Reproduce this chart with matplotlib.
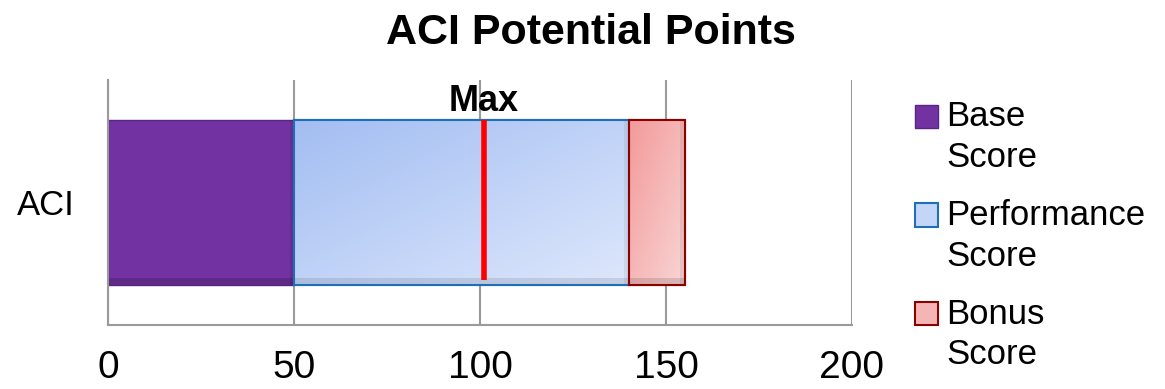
#!/usr/bin/env python3
'''
ACI potential points - stacked horizontal bar with max marker
'''
import numpy as np
import matplotlib.pyplot as plt
from matplotlib.patches import Patch, Rectangle
from matplotlib.legend_handler import HandlerPatch
from matplotlib.colors import LinearSegmentedColormap

categories = ['ACI']
series_names = ['Base\nScore', 'Performance\nScore', 'Bonus\nScore']
base_score = [50]
performance_score = [90]
bonus_score = [15]
max_points = 101
x_ticks = [0, 50, 100, 150, 200]

plt.rcParams['font.family'] = ['Liberation Sans', 'DejaVu Sans']

GRID = '#9a9a9a'
BAR_H = 0.67


def add_gradient(ax, bar, c1, c2):
    '''
    paint a diagonal gradient inside a bar (dark top-left, light bottom-right)
    '''
    x0, y0 = bar.get_x(), bar.get_y()
    w, h = bar.get_width(), bar.get_height()
    xx, yy = np.meshgrid(np.linspace(0, 1, 60), np.linspace(0, 1, 60))
    # row 0 is drawn at the top with origin='upper'
    grad = (xx + yy) / 2
    cmap = LinearSegmentedColormap.from_list('g', [c1, c2])
    im = ax.imshow(grad, cmap=cmap, extent=(x0, x0 + w, y0, y0 + h),
                   aspect='auto', origin='upper', zorder=2.1, interpolation='bilinear')
    im.set_clip_path(bar)


def add_bevel(ax, x0, w, alpha):
    '''
    thin darker strips on the bottom and right edge of a bar
    '''
    y0 = -BAR_H / 2
    ax.fill_between([x0, x0 + w], y0, y0 + BAR_H * 0.04, color='black',
                    alpha=alpha, zorder=2.2, lw=0)
    ax.fill_between([x0 + w - 1.2, x0 + w], y0, y0 + BAR_H, color='black',
                    alpha=alpha * 0.6, zorder=2.2, lw=0)


def top_square(legend, orig_handle, xdescent, ydescent, width, height, fontsize):
    '''
    legend square lined up with the first line of a two line label
    '''
    return Rectangle((-xdescent, -ydescent + 0.62 * fontsize), width, height)


fig = plt.figure(figsize=(11.65, 3.89), dpi=100)
ax = fig.add_axes([0.0927, 0.1645, 0.6386, 0.630])

base = ax.barh(categories, base_score, height=BAR_H, color='#7232a2',
               edgecolor='#5a2386', lw=1, zorder=2)
perf = ax.barh(categories, performance_score, left=base_score, height=BAR_H,
               color='#b4cbf5', edgecolor='#1f6fb8', lw=1.5, zorder=2)
left_bonus = [b + p for b, p in zip(base_score, performance_score)]
bonus = ax.barh(categories, bonus_score, left=left_bonus, height=BAR_H,
                color='#f5b5b5', edgecolor='#8b0000', lw=1.5, zorder=2)

add_gradient(ax, perf[0], '#a3bef2', '#dde7fc')
add_gradient(ax, bonus[0], '#f39a9a', '#f9d4d4')
add_bevel(ax, 0, base_score[0], 0.16)
add_bevel(ax, base_score[0], performance_score[0], 0.10)
add_bevel(ax, left_bonus[0], bonus_score[0], 0.12)

# outlines on top of the gradients
ax.barh(categories, performance_score, left=base_score, height=BAR_H,
        color='none', edgecolor='#1f6fb8', lw=1.5, zorder=3)
ax.barh(categories, bonus_score, left=left_bonus, height=BAR_H,
        color='none', edgecolor='#8b0000', lw=1.5, zorder=3)

# max marker
ax.vlines(max_points, -BAR_H / 2 + 0.02, BAR_H / 2, color='red', lw=4, zorder=4)
ax.text(max_points, 0.41, 'Max', ha='center', va='center', fontsize=26,
        fontweight='bold', zorder=5)

ax.set_xlim(0, 200)
ax.set_ylim(-0.5, 0.5)
ax.set_xticks(x_ticks)
ax.xaxis.grid(True, color=GRID, lw=1.5)
ax.set_axisbelow(True)
for side in ['top', 'right']:
    ax.spines[side].set_visible(False)
for side in ['left', 'bottom']:
    ax.spines[side].set_color(GRID)
    ax.spines[side].set_linewidth(1.5)
ax.tick_params(axis='x', length=0, pad=18, labelsize=28)
ax.tick_params(axis='y', length=0, pad=24, labelsize=25)

fig.text(0.507, 0.915, 'ACI Potential Points', ha='center', va='center',
         fontsize=31, fontweight='bold')

handles = [
    Patch(facecolor='#7232a2', edgecolor='#5a2386', lw=1),
    Patch(facecolor='#c4d6f7', edgecolor='#1f6fb8', lw=1.5),
    Patch(facecolor='#f5b5b5', edgecolor='#8b0000', lw=1.5),
]
leg = fig.legend(handles, series_names, loc='upper left',
                 bbox_to_anchor=(915 / 1165, (389 - 100) / 389), frameon=False,
                 fontsize=25, handlelength=0.65, handleheight=0.65, handletextpad=0.25,
                 labelspacing=0.72, borderpad=0, borderaxespad=0,
                 handler_map={Patch: HandlerPatch(patch_func=top_square)})
for txt in leg.get_texts():
    txt.set_linespacing(1.3)

fig.savefig('out.png', dpi=100)
